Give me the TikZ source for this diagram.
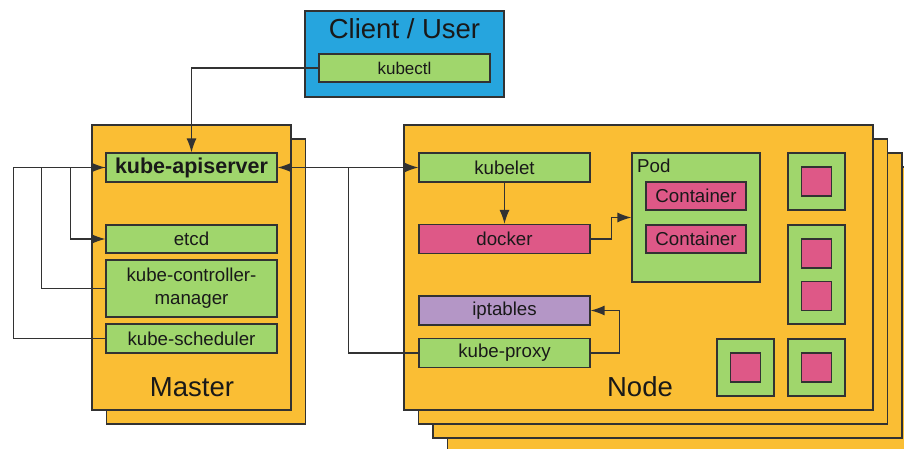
\documentclass[tikz,border=0pt]{standalone}
\usepackage{fontspec}
\setmainfont{Liberation Sans}
\usetikzlibrary{arrows.meta,positioning}
\definecolor{clientblue}{RGB}{38,165,222}
\definecolor{boxyellow}{RGB}{250,190,52}
\definecolor{compgreen}{RGB}{160,214,108}
\definecolor{contpink}{RGB}{222,88,135}
\definecolor{tablepurple}{RGB}{180,150,198}
\definecolor{edgegray}{RGB}{50,50,50}
\definecolor{labeltext}{RGB}{25,25,25}
\tikzset{
  layer/.style={draw=edgegray,line width=1.2pt,fill=boxyellow,inner sep=0pt},
  comp/.style={draw=edgegray,line width=1.2pt,fill=compgreen,inner sep=0pt,
    minimum width=171pt,minimum height=29pt,text=labeltext,font=\fontsize{18.7}{22}\selectfont},
  podbox/.style={draw=edgegray,line width=1.2pt,fill=compgreen,inner sep=0pt},
  cell/.style={draw=edgegray,line width=1.2pt,fill=contpink,inner sep=0pt,
    minimum width=30pt,minimum height=29pt},
  link/.style={draw=edgegray,line width=1.3pt},
  arr/.style={link,-{Latex[length=14pt,width=10pt]}},
  twoway/.style={link,{Latex[length=14pt,width=10pt]}-{Latex[length=14pt,width=10pt]}},
  title/.style={text=labeltext,inner sep=0pt,font=\fontsize{27.5}{32}\selectfont},
}

\begin{document}
\begin{tikzpicture}[x=1pt,y=-1pt]
  \useasboundingbox (0,0) rectangle (904,449);
  \clip (0,0) rectangle (904,449);

  \foreach \i in {1,0}
    \draw[layer] (92+14.5*\i,125+14*\i) rectangle ++(199,285);
  \foreach \i in {3,2,1,0}
    \draw[layer] (404+14.5*\i,125+14*\i) rectangle ++(469,285);

  \node[layer,fill=clientblue,minimum width=199pt,minimum height=86pt] (client) at (404.5,54) {};
  \node[title] (clienttitle) at (404.5,29) {Client / User};
  \node[comp,minimum height=28pt,font=\fontsize{17}{20}\selectfont] (kubectl) at (404.5,68) {kubectl};

  \node[comp,font=\bfseries\fontsize{21.5}{24}\selectfont] (api) at (191.5,167.5) {kube-apiserver};
  \node[comp,minimum height=28pt] (etcd) at (191.5,239) {etcd};
  \node[comp,minimum height=57pt,align=center,font=\fontsize{18.7}{23}\selectfont] (ctrl) at (191.5,288.5) {kube-controller-\\manager};
  \node[comp] (sched) at (191.5,338.5) {kube-scheduler};
  \node[title] (mastertitle) at (192,387) {Master};

  \node[comp] (kubelet) at (504.5,167.5) {kubelet};
  \node[comp,fill=contpink] (docker) at (504.5,239) {docker};
  \node[comp,fill=tablepurple] (iptables) at (504.5,310.5) {iptables};
  \node[comp] (proxy) at (504.5,353) {kube-proxy};
  \node[title] (nodetitle) at (640,387) {Node};

  \node[podbox,minimum width=128pt,minimum height=129pt] (pod) at (696,217.5) {};
  \node[anchor=base west,inner sep=0pt,text=labeltext,font=\fontsize{18.7}{22}\selectfont] (podtitle) at (637,173) {Pod};
  \node[comp,fill=contpink,minimum width=100pt,minimum height=28pt] (conta) at (696,196) {Container};
  \node[comp,fill=contpink,minimum width=100pt,minimum height=28pt] (contb) at (696,239) {Container};

  \foreach \n/\cx/\cy in {a/816.5/181.5,c/745.5/367.5,d/816.5/367.5}{
    \node[podbox,minimum size=57pt] (pod\n) at (\cx,\cy) {};
    \node[cell] (cell\n) at (pod\n) {};
  }
  \node[podbox,minimum width=57pt,minimum height=99pt] (podb) at (816.5,274.5) {};
  \node[cell] (cellb1) at (816.5,253.5) {};
  \node[cell] (cellb2) at (816.5,296) {};

  \draw[arr] (kubectl.west) -| (api.north);
  \draw[arr] (sched.west) -- ++(-92,0) |- (api.west);
  \draw[link] (ctrl.west) -- ++(-64,0) |- (api.west);
  \draw[arr] ([xshift=-35pt]api.west) |- (etcd.west);
  \draw[twoway] (api.east) -- (kubelet.west);
  \draw[link] (proxy.west) -| ([xshift=71pt]api.east);
  \draw[arr] (kubelet) -- (docker);
  \draw[arr] (docker.east) -- ++(21,0) |- (pod.west);
  \draw[arr] (proxy.east) -- ++(29,0) |- (iptables.east);
\end{tikzpicture}
\end{document}
